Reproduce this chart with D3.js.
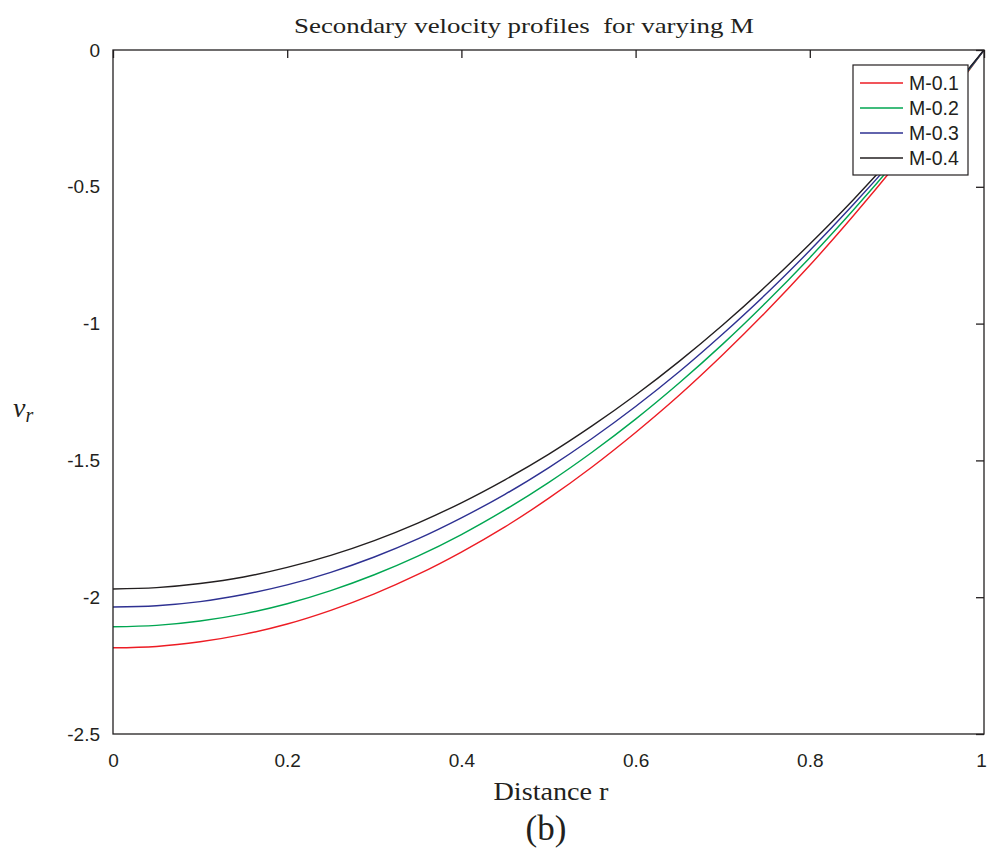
<!DOCTYPE html>
<html>
<head>
<meta charset="utf-8">
<script src="https://cdn.jsdelivr.net/npm/d3@7/dist/d3.min.js"></script>
<style>
  html, body { margin: 0; padding: 0; background: #fff; }
  svg { display: block; }
</style>
</head>
<body>
<svg id="chart" width="988" height="851"></svg>
<script>
const rValues = [0, 0.05, 0.1, 0.15, 0.2, 0.25, 0.3, 0.35, 0.4, 0.45, 0.5, 0.55, 0.6, 0.65, 0.7, 0.75, 0.8, 0.85, 0.9, 0.95, 1];
const seriesM01 = [-2.185, -2.180, -2.163, -2.136, -2.098, -2.048, -1.988, -1.917, -1.835, -1.743, -1.639, -1.524, -1.398, -1.262, -1.114, -0.956, -0.787, -0.606, -0.415, -0.213, 0];
const seriesM02 = [-2.108, -2.103, -2.087, -2.061, -2.024, -1.976, -1.918, -1.850, -1.771, -1.681, -1.581, -1.470, -1.349, -1.217, -1.075, -0.922, -0.759, -0.585, -0.401, -0.206, 0];
const seriesM03 = [-2.036, -2.031, -2.016, -1.990, -1.955, -1.909, -1.853, -1.787, -1.710, -1.624, -1.527, -1.420, -1.303, -1.176, -1.038, -0.891, -0.733, -0.565, -0.387, -0.199, 0];
const seriesM04 = [-1.970, -1.965, -1.950, -1.926, -1.891, -1.847, -1.793, -1.729, -1.655, -1.571, -1.478, -1.374, -1.261, -1.138, -1.005, -0.862, -0.709, -0.547, -0.374, -0.192, 0];
const seriesNames = ["M-0.1", "M-0.2", "M-0.3", "M-0.4"];
const seriesColors = ["#ed1c24", "#00a651", "#2e3192", "#231f20"];
const xTicks = [0, 0.2, 0.4, 0.6, 0.8, 1];
const yTicks = [0, -0.5, -1, -1.5, -2, -2.5];

const allSeries = [seriesM01, seriesM02, seriesM03, seriesM04];

const svg = d3.select("#chart");
const L = 113, T = 50, R = 984, B = 734;

const x = d3.scaleLinear().domain([0, 1]).range([L, R]);
const y = d3.scaleLinear().domain([-2.5, 0]).range([B, T]);

svg.append("defs").append("clipPath").attr("id", "clip")
  .append("rect").attr("x", L).attr("y", T).attr("width", R - L).attr("height", B - T);

const line = d3.line()
  .x((d, i) => x(rValues[i]))
  .y(d => y(d))
  .curve(d3.curveCatmullRom);

const g = svg.append("g").attr("clip-path", "url(#clip)");
allSeries.forEach((s, k) => {
  g.append("path")
    .datum(s)
    .attr("d", line)
    .attr("fill", "none")
    .attr("stroke", seriesColors[k])
    .attr("stroke-width", 1.4);
});

// box
svg.append("rect")
  .attr("x", L).attr("y", T).attr("width", R - L).attr("height", B - T)
  .attr("fill", "none").attr("stroke", "#231f20").attr("stroke-width", 1.3);

// top ticks (inward)
svg.append("g")
  .attr("transform", `translate(0,${T})`)
  .call(d3.axisTop(x).tickValues(xTicks).tickSize(-8).tickFormat(""))
  .call(a => a.select(".domain").remove())
  .selectAll("line").attr("stroke", "#231f20").attr("stroke-width", 1.3);

// right ticks (inward)
svg.append("g")
  .attr("transform", `translate(${R},0)`)
  .call(d3.axisRight(y).tickValues(yTicks).tickSize(-8).tickFormat(""))
  .call(a => a.select(".domain").remove())
  .selectAll("line").attr("stroke", "#231f20").attr("stroke-width", 1.3);

const fmt = d => String(d);

// bottom tick labels
const xa = svg.append("g")
  .attr("transform", `translate(0,${B})`)
  .call(d3.axisBottom(x).tickValues(xTicks).tickSize(0).tickPadding(20).tickFormat(fmt));
xa.select(".domain").remove();
xa.selectAll("text")
  .attr("font-family", "Liberation Sans, Arial, sans-serif")
  .attr("font-size", 19).attr("fill", "#231f20")
  .attr("dx", d => d === 1 ? -3 : 0);

// left tick labels
const ya = svg.append("g")
  .attr("transform", `translate(${L},0)`)
  .call(d3.axisLeft(y).tickValues(yTicks).tickSize(0).tickPadding(13).tickFormat(fmt));
ya.select(".domain").remove();
ya.selectAll("text").attr("font-family", "Liberation Sans, Arial, sans-serif").attr("font-size", 19).attr("fill", "#231f20");

// title
svg.append("text")
  .attr("x", 524).attr("y", 33)
  .attr("text-anchor", "middle")
  .attr("font-family", "Liberation Serif, Times New Roman, serif")
  .attr("font-size", 22)
  .attr("fill", "#231f20")
  .attr("textLength", 460)
  .attr("lengthAdjust", "spacingAndGlyphs")
  .attr("xml:space", "preserve")
  .text("Secondary velocity profiles  for varying M");

// x label
svg.append("text")
  .attr("x", 551).attr("y", 800)
  .attr("text-anchor", "middle")
  .attr("font-family", "Liberation Serif, Times New Roman, serif")
  .attr("font-size", 26)
  .attr("fill", "#231f20")
  .attr("textLength", 115)
  .attr("lengthAdjust", "spacingAndGlyphs")
  .text("Distance r");

// (b)
svg.append("text")
  .attr("x", 546).attr("y", 840)
  .attr("text-anchor", "middle")
  .attr("font-family", "Liberation Serif, Times New Roman, serif")
  .attr("font-size", 35)
  .attr("fill", "#231f20")
  .text("(b)");

// y label v_r
const yl = svg.append("text")
  .attr("x", 13).attr("y", 417)
  .attr("font-family", "Liberation Serif, Times New Roman, serif")
  .attr("font-style", "italic")
  .attr("font-size", 28)
  .attr("fill", "#231f20");
yl.append("tspan").text("v");
yl.append("tspan").attr("font-size", 20).attr("dy", 5).text("r");

// legend
const lg = svg.append("g");
lg.append("rect")
  .attr("x", 853).attr("y", 65).attr("width", 115).attr("height", 110)
  .attr("fill", "#fff").attr("stroke", "#231f20").attr("stroke-width", 1.2);
seriesNames.forEach((n, k) => {
  const yy = 83 + k * 25;
  lg.append("line")
    .attr("x1", 860).attr("x2", 903).attr("y1", yy).attr("y2", yy)
    .attr("stroke", seriesColors[k]).attr("stroke-width", 1.3);
  lg.append("text")
    .attr("x", 909).attr("y", yy + 7)
    .attr("font-family", "Liberation Sans, Arial, sans-serif")
    .attr("font-size", 19.5)
    .attr("fill", "#231f20")
    .text(n);
});
</script>
</body>
</html>
